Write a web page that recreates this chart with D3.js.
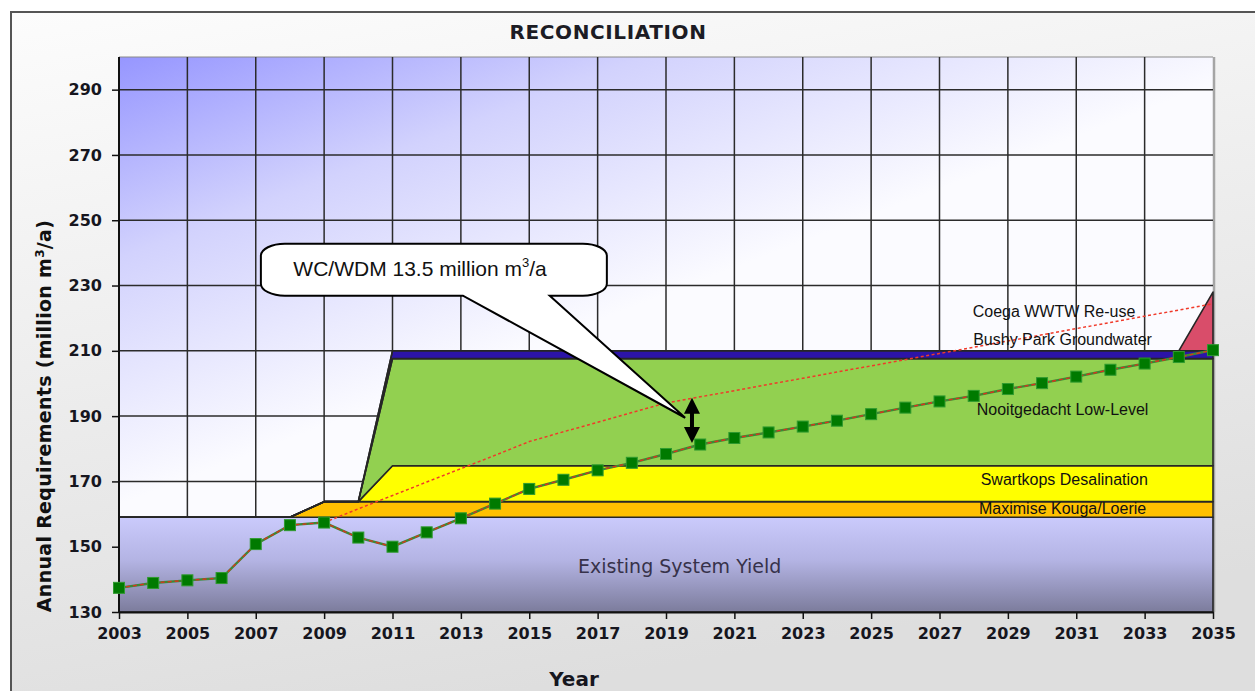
<!DOCTYPE html>
<html>
<head>
<meta charset="utf-8">
<script src="https://cdn.jsdelivr.net/npm/d3@7"></script>
<style>
  body { margin: 0; background: #ffffff; }
  svg { display: block; }
</style>
</head>
<body>
<svg id="chart" width="1255" height="691"></svg>
<script>

/* ── Data ── */
const years = [2003, 2004, 2005, 2006, 2007, 2008, 2009, 2010, 2011, 2012, 2013,
               2014, 2015, 2016, 2017, 2018, 2019, 2020, 2021, 2022, 2023, 2024,
               2025, 2026, 2027, 2028, 2029, 2030, 2031, 2032, 2033, 2034, 2035];

/* supply layers, million m3/a added per year (stacked) */
const existingYield = [159, 159, 159, 159, 159, 159, 159, 159, 159, 159, 159,
                       159, 159, 159, 159, 159, 159, 159, 159, 159, 159, 159,
                       159, 159, 159, 159, 159, 159, 159, 159, 159, 159, 159];
const kougaLoerie   = [0, 0, 0, 0, 0, 0, 4.8, 4.8, 4.8, 4.8, 4.8,
                       4.8, 4.8, 4.8, 4.8, 4.8, 4.8, 4.8, 4.8, 4.8, 4.8, 4.8,
                       4.8, 4.8, 4.8, 4.8, 4.8, 4.8, 4.8, 4.8, 4.8, 4.8, 4.8];
const swartkops     = [0, 0, 0, 0, 0, 0, 0, 0, 11, 11, 11,
                       11, 11, 11, 11, 11, 11, 11, 11, 11, 11, 11,
                       11, 11, 11, 11, 11, 11, 11, 11, 11, 11, 11];
const nooitgedacht  = [0, 0, 0, 0, 0, 0, 0, 0, 32.8, 32.8, 32.8,
                       32.8, 32.8, 32.8, 32.8, 32.8, 32.8, 32.8, 32.8, 32.8, 32.8, 32.8,
                       32.8, 32.8, 32.8, 32.8, 32.8, 32.8, 32.8, 32.8, 32.8, 32.8, 32.8];
const bushyPark     = [0, 0, 0, 0, 0, 0, 0, 0, 2.4, 2.4, 2.4,
                       2.4, 2.4, 2.4, 2.4, 2.4, 2.4, 2.4, 2.4, 2.4, 2.4, 2.4,
                       2.4, 2.4, 2.4, 2.4, 2.4, 2.4, 2.4, 2.4, 2.4, 2.4, 2.4];
const coegaReuse    = [0, 0, 0, 0, 0, 0, 0, 0, 0, 0, 0,
                       0, 0, 0, 0, 0, 0, 0, 0, 0, 0, 0,
                       0, 0, 0, 0, 0, 0, 0, 0, 0, 0, 18];

/* requirement with WC/WDM (green squares) */
const demandLow  = [137.4, 138.9, 139.7, 140.4, 150.8, 156.6, 157.4, 152.8, 150.0, 154.4, 158.7,
                    163.2, 167.7, 170.5, 173.4, 175.7, 178.4, 181.3, 183.3, 185.0, 186.8, 188.6,
                    190.6, 192.6, 194.5, 196.2, 198.3, 200.1, 202.1, 204.2, 206.1, 208.1, 210.2];
/* requirement without WC/WDM (red dashed), from 2009 */
const demandHighYears = [2009, 2010, 2011, 2012, 2013, 2014, 2015, 2016, 2017, 2018, 2019,
                         2020, 2021, 2022, 2023, 2024, 2025, 2026, 2027, 2028, 2029, 2030,
                         2031, 2032, 2033, 2034, 2035];
const demandHigh = [157.4, 161.6, 165.7, 169.8, 173.9, 178.0, 182.2, 185.2, 188.1, 191.1, 194.0,
                    195.9, 197.8, 199.7, 201.6, 203.5, 205.4, 207.3, 209.2, 211.1, 213.0, 214.9,
                    216.8, 218.7, 220.6, 222.5, 224.4];

const layerKeys   = ['existing', 'kouga', 'swartkops', 'nooitgedacht', 'bushy', 'coega'];
const layerColors = ['url(#existingGrad)', '#ffc000', '#ffff00', '#92d050', '#2c14a8', '#d94d6a'];

const xTickYears = [2003, 2005, 2007, 2009, 2011, 2013, 2015, 2017, 2019, 2021,
                    2023, 2025, 2027, 2029, 2031, 2033, 2035];
const yTickValues = [130, 150, 170, 190, 210, 230, 250, 270, 290];

/* in-chart labels: text, year, value (baseline) */
const layerLabels = [
  { text: 'Coega WWTW Re-use',      year: 2030.35, value: 220.4 },
  { text: 'Bushy Park Groundwater', year: 2030.6,  value: 211.8 },
  { text: 'Nooitgedacht Low-Level', year: 2030.6,  value: 190.4 },
  { text: 'Swartkops Desalination', year: 2030.65, value: 168.9 },
  { text: 'Maximise Kouga/Loerie',  year: 2030.6,  value: 160.0 }
];

/* ── Layout ── */
const svg = d3.select('#chart');
const margin = { left: 119, top: 57, right: 42, bottom: 79 };
const width  = 1255 - margin.left - margin.right;   // 1094
const height = 691 - margin.top - margin.bottom;    // 555

const xScale = d3.scaleLinear().domain([2003, 2035]).range([margin.left, margin.left + width]);
const yScale = d3.scaleLinear().domain([130, 300]).range([margin.top + height, margin.top]);

/* ── Gradients ── */
const defs = svg.append('defs');

const frameGrad = defs.append('linearGradient')
  .attr('id', 'frameGrad').attr('x1', 0).attr('y1', 0).attr('x2', 0.3).attr('y2', 1);
frameGrad.append('stop').attr('offset', '0%').attr('stop-color', '#fcfcfc');
frameGrad.append('stop').attr('offset', '100%').attr('stop-color', '#dedede');

/* blue wash fading out quickly downwards, slowly to the right */
const plotGrad = defs.append('linearGradient')
  .attr('id', 'plotGrad').attr('gradientUnits', 'userSpaceOnUse')
  .attr('x1', margin.left).attr('y1', margin.top)
  .attr('x2', margin.left + 150).attr('y2', margin.top + 390);
plotGrad.append('stop').attr('offset', '0%').attr('stop-color', '#9696ff');
plotGrad.append('stop').attr('offset', '45%').attr('stop-color', '#d2d2fd');
plotGrad.append('stop').attr('offset', '100%').attr('stop-color', '#fbfbff');

const existingGrad = defs.append('linearGradient')
  .attr('id', 'existingGrad').attr('x1', 0).attr('y1', 0).attr('x2', 0).attr('y2', 1);
existingGrad.append('stop').attr('offset', '0%').attr('stop-color', '#cacafc');
existingGrad.append('stop').attr('offset', '45%').attr('stop-color', '#b4b4e4');
existingGrad.append('stop').attr('offset', '100%').attr('stop-color', '#7c7c9c');

/* ── Frame and plot background ── */
svg.append('rect')
  .attr('x', 11).attr('y', 12).attr('width', 1270).attr('height', 700)
  .attr('fill', 'url(#frameGrad)').attr('stroke', '#555').attr('stroke-width', 2);

svg.append('rect')
  .attr('x', margin.left).attr('y', margin.top)
  .attr('width', width).attr('height', height)
  .attr('fill', 'url(#plotGrad)');

/* plot border (top + right) */
svg.append('line')
  .attr('x1', margin.left).attr('x2', margin.left + width)
  .attr('y1', margin.top).attr('y2', margin.top)
  .attr('stroke', '#8a8a8a').attr('stroke-width', 1);
svg.append('line')
  .attr('x1', margin.left + width + 1).attr('x2', margin.left + width + 1)
  .attr('y1', margin.top).attr('y2', margin.top + height)
  .attr('stroke', '#a5a5a5').attr('stroke-width', 2.5);

/* ── Grid ── */
const grid = svg.append('g').attr('class', 'grid');
grid.selectAll('line.gx')
  .data(xTickYears.slice(1, -1))
  .join('line')
  .attr('class', 'gx')
  .attr('x1', d => xScale(d)).attr('x2', d => xScale(d))
  .attr('y1', margin.top).attr('y2', margin.top + height)
  .attr('stroke', '#2b2b2b').attr('stroke-width', 1.5);
grid.selectAll('line.gy')
  .data(yTickValues.slice(1))
  .join('line')
  .attr('class', 'gy')
  .attr('x1', margin.left).attr('x2', margin.left + width)
  .attr('y1', d => yScale(d)).attr('y2', d => yScale(d))
  .attr('stroke', '#2b2b2b').attr('stroke-width', 1.5);

/* ── Stacked supply areas ── */
const rows = years.map((yr, i) => ({
  year: yr,
  existing: existingYield[i],
  kouga: kougaLoerie[i],
  swartkops: swartkops[i],
  nooitgedacht: nooitgedacht[i],
  bushy: bushyPark[i],
  coega: coegaReuse[i]
}));

const stacked = d3.stack().keys(layerKeys)(rows);
stacked[0].forEach(p => { p[0] = 130; });   // existing yield sits on the axis floor

const area = d3.area()
  .x(d => xScale(d.data.year))
  .y0(d => yScale(Math.max(130, d[0])))
  .y1(d => yScale(d[1]));

svg.append('g').attr('class', 'layers')
  .selectAll('path')
  .data(stacked)
  .join('path')
  .attr('d', area)
  .attr('fill', (d, i) => layerColors[i])
  .attr('stroke', '#262626')
  .attr('stroke-width', 1.6)
  .attr('stroke-linejoin', 'round');

/* ── Axes ── */
const xAxis = svg.append('g')
  .attr('transform', `translate(0,${margin.top + height})`)
  .call(d3.axisBottom(xScale).tickValues(xTickYears).tickFormat(d3.format('d'))
    .tickSize(7).tickSizeOuter(0).tickPadding(9));
const yAxis = svg.append('g')
  .attr('transform', `translate(${margin.left},0)`)
  .call(d3.axisLeft(yScale).tickValues(yTickValues)
    .tickSize(7).tickSizeOuter(0).tickPadding(10));

[xAxis, yAxis].forEach(ax => {
  ax.select('.domain').attr('stroke', '#111').attr('stroke-width', 2);
  ax.selectAll('.tick line').attr('stroke', '#111').attr('stroke-width', 1.5);
  ax.selectAll('.tick text')
    .attr('font-family', 'DejaVu Sans, Verdana, sans-serif')
    .attr('font-size', 16).attr('font-weight', 'bold')
    .attr('fill', '#16161e');
});
yAxis.select('.domain').attr('d', `M0,${margin.top}V${margin.top + height}`);

/* ── Requirement lines ── */
const lowPts  = years.map((yr, i) => [xScale(yr), yScale(demandLow[i])]);
const highPts = demandHighYears.map((yr, i) => [xScale(yr), yScale(demandHigh[i])]);
const line = d3.line();

svg.append('path')
  .attr('d', line(lowPts))
  .attr('fill', 'none').attr('stroke', '#3b8a35').attr('stroke-width', 2.4);
svg.append('path')
  .attr('d', line(lowPts))
  .attr('fill', 'none').attr('stroke', '#d8341e').attr('stroke-width', 1.4)
  .attr('stroke-dasharray', '4,3');
svg.append('path')
  .attr('d', line(highPts))
  .attr('fill', 'none').attr('stroke', '#f03a2a').attr('stroke-width', 1.5)
  .attr('stroke-dasharray', '3,2.5');

svg.append('g').attr('class', 'markers')
  .selectAll('rect')
  .data(lowPts)
  .join('rect')
  .attr('x', d => d[0] - 5.5).attr('y', d => d[1] - 5.5)
  .attr('width', 11).attr('height', 11)
  .attr('fill', '#007a00').attr('stroke', '#2f9a2f').attr('stroke-width', 1);

/* ── Labels ── */
svg.append('g').attr('class', 'layer-labels')
  .selectAll('text')
  .data(layerLabels)
  .join('text')
  .attr('x', d => xScale(d.year)).attr('y', d => yScale(d.value))
  .attr('text-anchor', 'middle')
  .attr('font-family', 'Liberation Sans, Arial, sans-serif')
  .attr('font-size', 16).attr('fill', '#111')
  .text(d => d.text);

svg.append('text')
  .attr('x', xScale(2019.4)).attr('y', yScale(142.0))
  .attr('text-anchor', 'middle')
  .attr('font-family', 'DejaVu Sans, Tahoma, sans-serif')
  .attr('font-size', 19).attr('fill', '#37324a')
  .text('Existing System Yield');

/* ── Callout: WC/WDM saving ── */
const cL = xScale(2007.15), cR = xScale(2017.27);
const cT = yScale(242.8),   cB = yScale(226.9);
const b1 = xScale(2013.06), b2 = xScale(2015.6);
const tipX = xScale(2019.56), tipY = yScale(189.5);
const rx = 24, ry = 12;

svg.append('path')
  .attr('d', `M${cL + rx},${cT} H${cR - rx} A${rx},${ry} 0 0 1 ${cR},${cT + ry}
    V${cB - ry} A${rx},${ry} 0 0 1 ${cR - rx},${cB} H${b2} L${tipX},${tipY} L${b1},${cB}
    H${cL + rx} A${rx},${ry} 0 0 1 ${cL},${cB - ry} V${cT + ry} A${rx},${ry} 0 0 1 ${cL + rx},${cT} Z`)
  .attr('fill', '#ffffff').attr('stroke', '#000').attr('stroke-width', 2)
  .attr('stroke-linejoin', 'miter');

const callText = svg.append('text')
  .attr('x', xScale(2008.1)).attr('y', yScale(233.0))
  .attr('font-family', 'Liberation Sans, Arial, sans-serif')
  .attr('font-size', 21).attr('fill', '#111');
callText.append('tspan').text('WC/WDM 13.5 million m');
callText.append('tspan').attr('font-size', 13).attr('dy', -9).text('3');
callText.append('tspan').attr('dy', 9).text('/a');

/* double-headed arrow between the two requirement lines */
const ax0 = xScale(2019.76), aTop = yScale(195.6), aBot = yScale(181.8);
const hw = 8, hh = 16, sw = 2;
svg.append('path')
  .attr('d', `M${ax0},${aTop} L${ax0 + hw},${aTop + hh} L${ax0 + sw},${aTop + hh}
    L${ax0 + sw},${aBot - hh} L${ax0 + hw},${aBot - hh} L${ax0},${aBot}
    L${ax0 - hw},${aBot - hh} L${ax0 - sw},${aBot - hh} L${ax0 - sw},${aTop + hh}
    L${ax0 - hw},${aTop + hh} Z`)
  .attr('fill', '#000');

/* ── Titles ── */
svg.append('text')
  .attr('x', 608).attr('y', 39)
  .attr('text-anchor', 'middle')
  .attr('font-family', 'DejaVu Sans, Verdana, sans-serif')
  .attr('font-size', 20).attr('font-weight', 'bold')
  .attr('letter-spacing', 0.6).attr('fill', '#1c1c24')
  .text('RECONCILIATION');

svg.append('text')
  .attr('x', 574).attr('y', 686)
  .attr('text-anchor', 'middle')
  .attr('font-family', 'DejaVu Sans, Verdana, sans-serif')
  .attr('font-size', 20).attr('font-weight', 'bold')
  .attr('fill', '#16161e')
  .text('Year');

const yTitle = svg.append('text')
  .attr('transform', 'translate(51,416) rotate(-90)')
  .attr('text-anchor', 'middle')
  .attr('font-family', 'DejaVu Sans, Tahoma, sans-serif')
  .attr('font-size', 19).attr('font-weight', 'bold')
  .attr('letter-spacing', 0.3).attr('fill', '#111');
yTitle.append('tspan').text('Annual Requirements (million m');
yTitle.append('tspan').attr('font-size', 12).attr('dy', -7).text('3');
yTitle.append('tspan').attr('dy', 7).text('/a)');

</script>
</body>
</html>
